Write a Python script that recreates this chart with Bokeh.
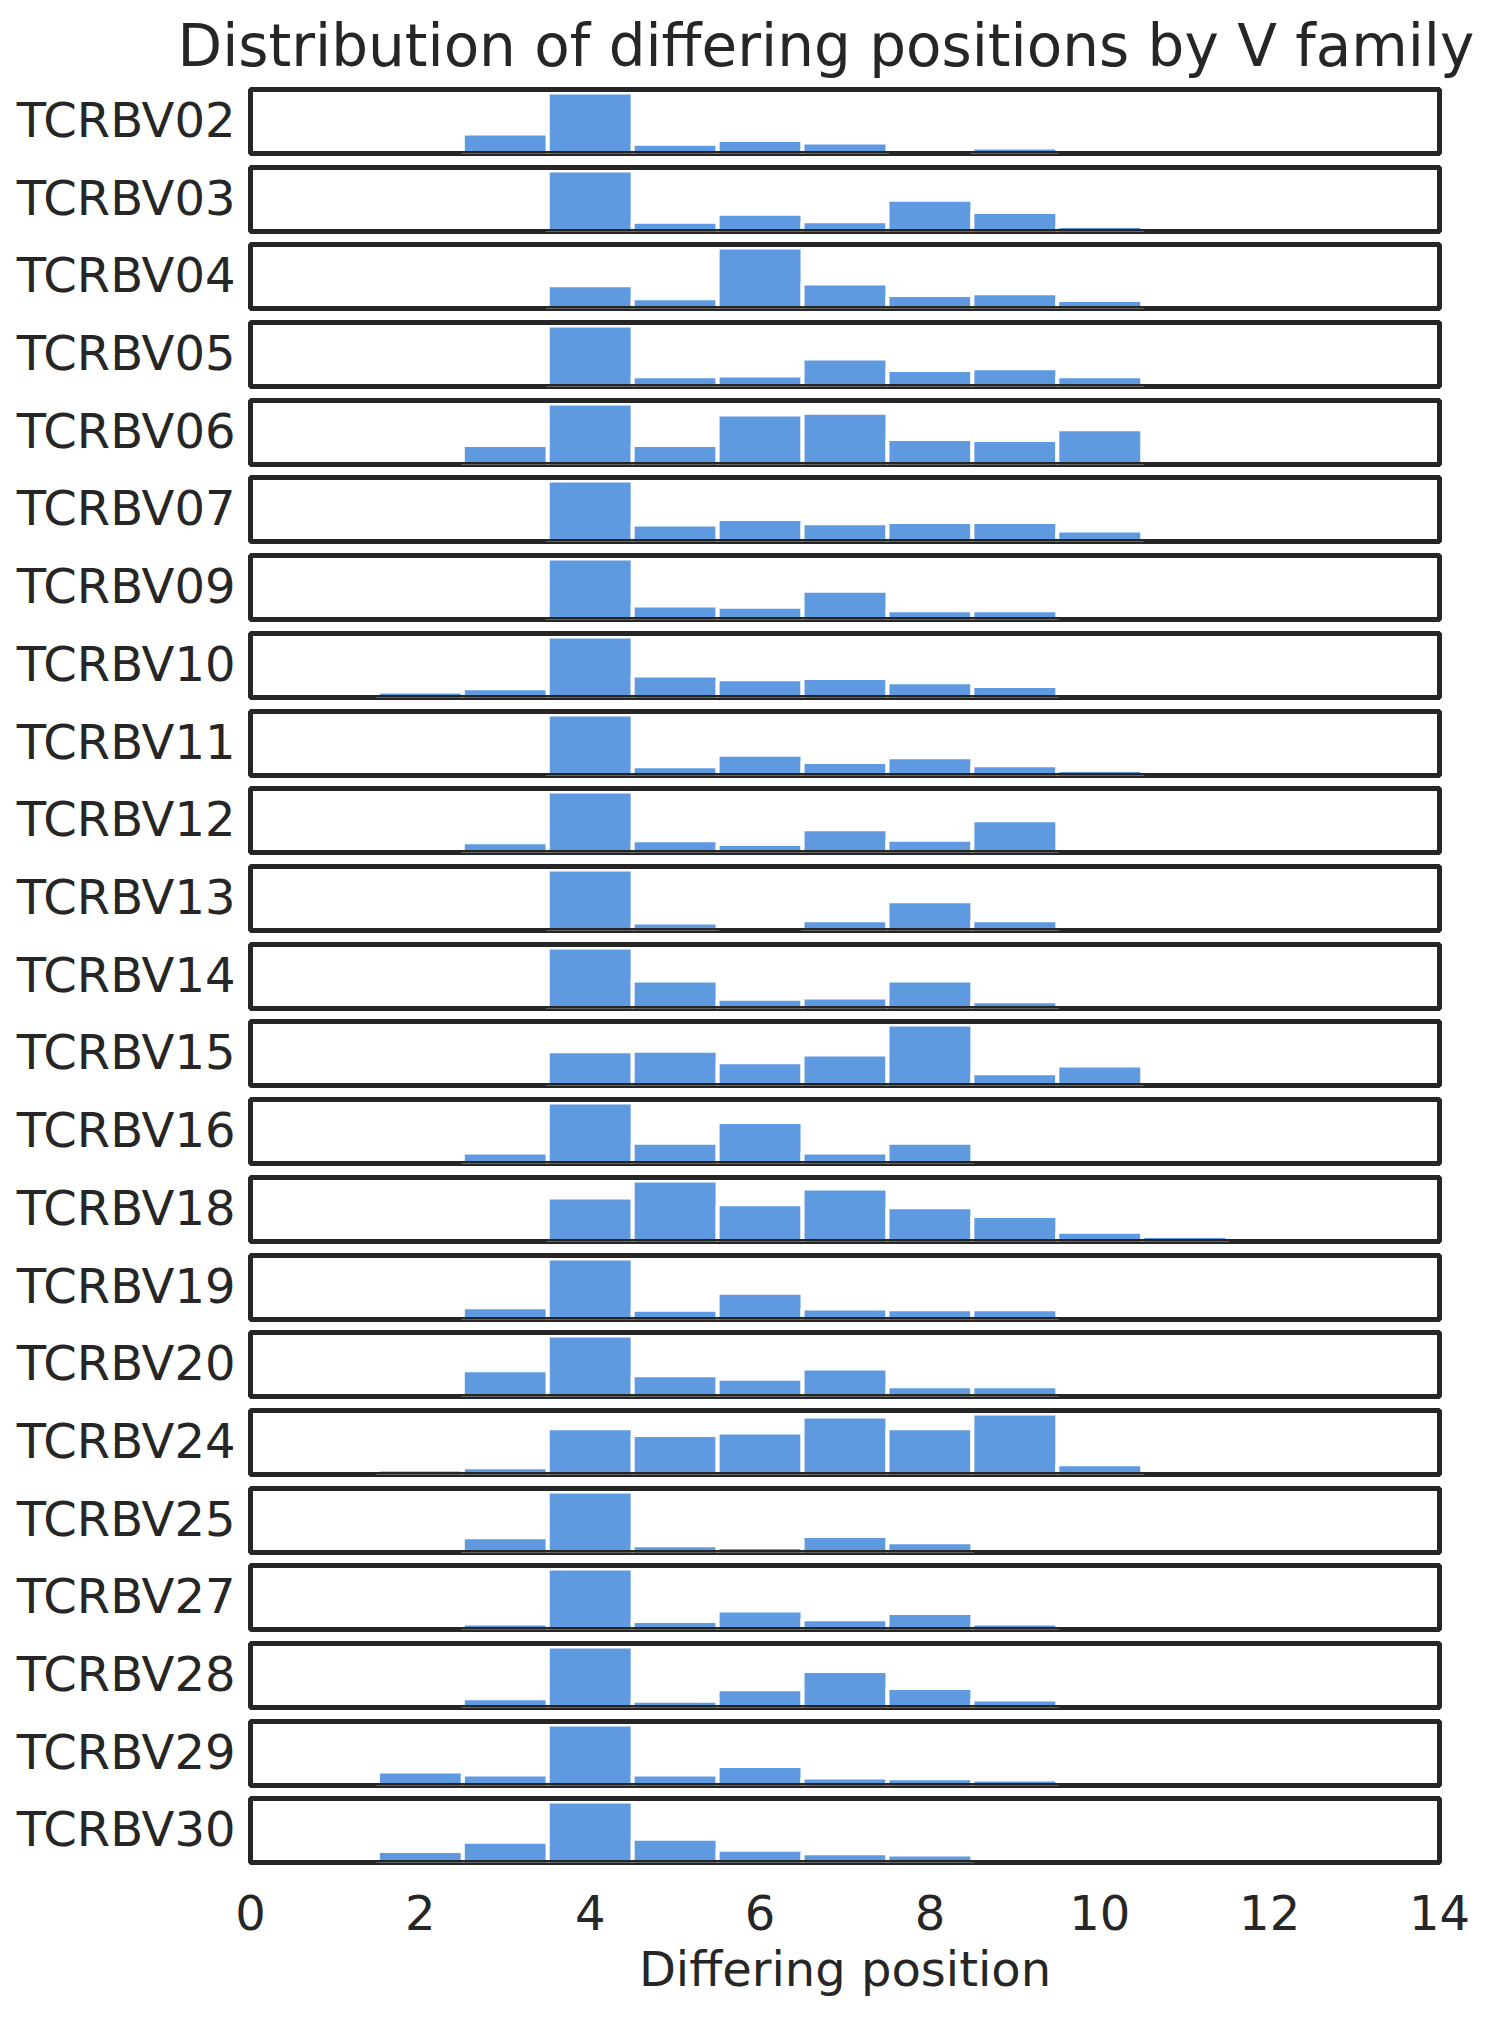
from bokeh.plotting import figure
from bokeh.models import (Range1d, FixedTicker, CustomJSTickFormatter,
                          ColumnDataSource, BoxAnnotation)
from bokeh.layouts import column
from bokeh.embed import file_html
from bokeh.resources import INLINE

# ---- data (relative bar heights, % of each family's largest bin) ----
positions = [2, 3, 4, 5, 6, 7, 8, 9, 10, 11]
x_ticks = [0, 2, 4, 6, 8, 10, 12, 14]

v02 = [0, 33, 100, 16, 22, 18, 0, 10, 0, 0]
v03 = [0, 0, 100, 16, 29, 17, 52, 32, 9, 0]
v04 = [0, 0, 38, 17, 100, 41, 22, 25, 14, 0]
v05 = [0, 0, 100, 17, 18, 46, 27, 30, 17, 0]
v06 = [0, 32, 100, 32, 82, 85, 42, 40, 58, 0]
v07 = [0, 0, 100, 28, 37, 30, 32, 32, 18, 0]
v09 = [0, 0, 100, 23, 21, 47, 15, 15, 0, 0]
v10 = [10, 15, 100, 36, 30, 32, 25, 19, 0, 0]
v11 = [0, 0, 100, 15, 34, 22, 30, 17, 9, 0]
v12 = [0, 17, 100, 20, 14, 38, 21, 53, 0, 0]
v13 = [0, 0, 100, 13, 0, 17, 48, 17, 0, 0]
v14 = [0, 0, 100, 46, 16, 18, 46, 12, 0, 0]
v15 = [0, 0, 56, 57, 38, 51, 100, 20, 33, 0]
v16 = [0, 18, 100, 34, 68, 18, 34, 0, 0, 0]
v18 = [0, 0, 72, 100, 61, 87, 56, 42, 16, 9]
v19 = [0, 20, 100, 16, 44, 18, 17, 17, 0, 0]
v20 = [0, 43, 100, 35, 29, 46, 17, 17, 0, 0]
v24 = [8, 12, 76, 65, 69, 95, 76, 100, 17, 0]
v25 = [0, 25, 100, 12, 9, 27, 17, 0, 0, 0]
v27 = [0, 10, 100, 14, 31, 17, 27, 10, 0, 0]
v28 = [0, 15, 100, 11, 30, 60, 32, 13, 0, 0]
v29 = [23, 18, 100, 18, 32, 13, 12, 10, 0, 0]
v30 = [19, 34, 100, 39, 21, 15, 13, 0, 0, 0]

families = ["TCRBV02", "TCRBV03", "TCRBV04", "TCRBV05", "TCRBV06", "TCRBV07",
            "TCRBV09", "TCRBV10", "TCRBV11", "TCRBV12", "TCRBV13", "TCRBV14",
            "TCRBV15", "TCRBV16", "TCRBV18", "TCRBV19", "TCRBV20", "TCRBV24",
            "TCRBV25", "TCRBV27", "TCRBV28", "TCRBV29", "TCRBV30"]
series = [v02, v03, v04, v05, v06, v07, v09, v10, v11, v12, v13, v14,
          v15, v16, v18, v19, v20, v24, v25, v27, v28, v29, v30]

TITLE = "Distribution of differing positions by V family"
XLABEL = "Differing position"

# ---- styling ----
BAR = "#5f9ae0"
INK = "#262626"
FONT = "DejaVu Sans"
FS = "48px"
FRAME_W, FRAME_H = 1189, 64
LEFT, RIGHT = 250, 40
STEP = 77.7
FIRST_TOP = 88
BOTTOM = 6

figs = []
n = len(families)
prev_top = None
for i, (name, vals) in enumerate(zip(families, series)):
    top_target = round(FIRST_TOP + STEP * i)
    if i == 0:
        tb = FIRST_TOP
    else:
        tb = top_target - (prev_top + FRAME_H + BOTTOM)
    prev_top = top_target
    last = i == n - 1
    ymax = max(vals) * 1.05
    p = figure(frame_width=FRAME_W, frame_height=FRAME_H,
               min_border_left=LEFT, min_border_right=RIGHT,
               min_border_top=tb, min_border_bottom=BOTTOM,
               x_range=Range1d(0, 14), y_range=Range1d(0, ymax),
               x_axis_location="below" if last else None,
               toolbar_location=None, output_backend="svg",
               background_fill_color="white", border_fill_color="white")
    xs = [x for x, v in zip(positions, vals) if v > 0]
    hs = [v for v in vals if v > 0]
    src = ColumnDataSource(dict(x=xs, top=hs))
    p.vbar(x="x", top="top", bottom=0, width=1, source=src,
           fill_color=BAR, line_color="white", line_width=4)
    p.xgrid.visible = False
    p.ygrid.visible = False
    # frame: outer half from the outline, inner half from an overlay box
    p.outline_line_color = INK
    p.outline_line_width = 5
    p.outline_line_alpha = 1.0
    p.add_layout(BoxAnnotation(fill_alpha=0, fill_color=None,
                               line_color=INK, line_width=5, line_alpha=1.0,
                               level="overlay"))

    ya = p.yaxis[0]
    ya.ticker = FixedTicker(ticks=[ymax * 0.525])
    ya.formatter = CustomJSTickFormatter(code="return '%s';" % name)
    ya.axis_line_color = None
    ya.major_tick_line_color = None
    ya.minor_tick_line_color = None
    ya.major_tick_out = 0
    ya.major_tick_in = 0
    ya.major_label_standoff = 15
    ya.major_label_text_font_size = FS
    ya.major_label_text_font = FONT
    ya.major_label_text_color = INK

    if i == 0:
        p.title.text = TITLE
        p.title.align = "left"
        p.title.offset = -73
        p.title.standoff = 19
        p.title.text_font_size = "58px"
        p.title.text_font = FONT
        p.title.text_font_style = "normal"
        p.title.text_color = INK
    if last:
        xa = p.xaxis[0]
        xa.ticker = FixedTicker(ticks=x_ticks)
        xa.axis_line_color = None
        xa.major_tick_line_color = None
        xa.minor_tick_line_color = None
        xa.major_tick_out = 0
        xa.major_tick_in = 0
        xa.major_label_standoff = 32
        xa.major_label_text_font_size = FS
        xa.major_label_text_font = FONT
        xa.major_label_text_color = INK
        xa.axis_label = XLABEL
        xa.axis_label_text_font_size = FS
        xa.axis_label_text_font = FONT
        xa.axis_label_text_font_style = "normal"
        xa.axis_label_text_color = INK
        xa.axis_label_standoff = 8
    figs.append(p)

layout = column(*figs, spacing=0)
open("out.html", "w").write(file_html(layout, INLINE))
